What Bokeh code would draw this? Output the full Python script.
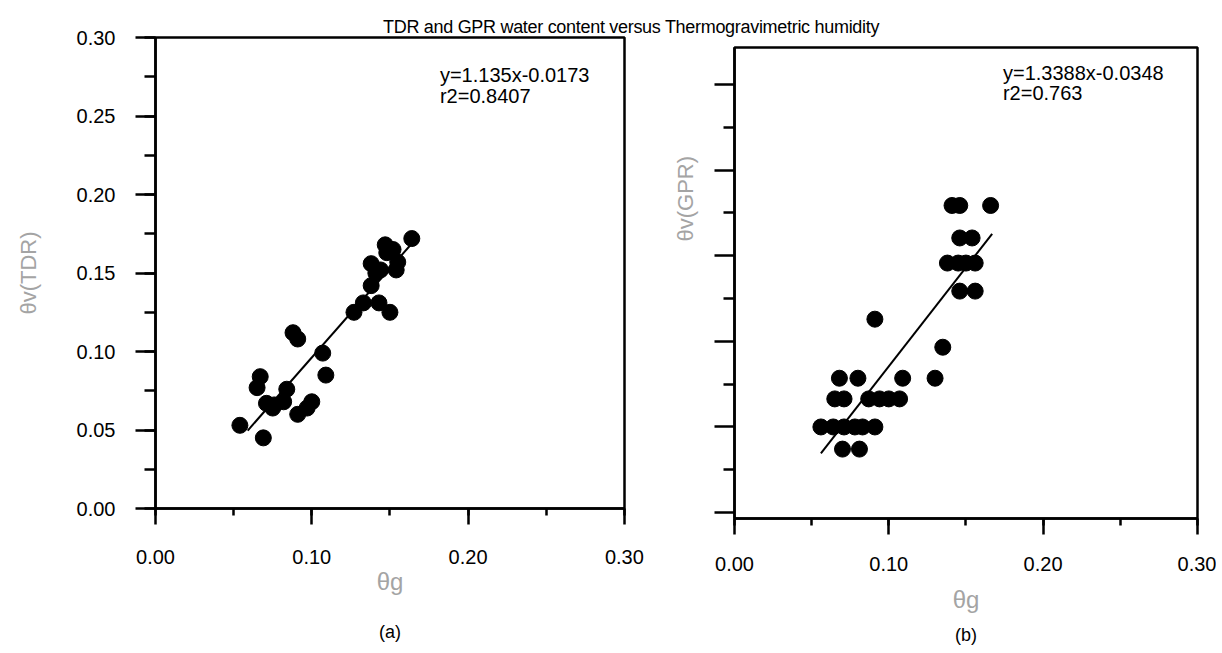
from bokeh.plotting import figure
from bokeh.layouts import row, column
from bokeh.models import (Div, Label, Title, Spacer, LinearAxis, SingleIntervalTicker,
                          FixedTicker, PrintfTickFormatter, CustomJSTickFormatter, Range1d)
from bokeh.embed import file_html
from bokeh.resources import INLINE

# ---------------- data ----------------
TITLE = "TDR and GPR water content versus Thermogravimetric humidity"

tdr_theta_g = [0.054, 0.069, 0.067, 0.065, 0.071, 0.076, 0.075, 0.082, 0.084, 0.088,
               0.091, 0.091, 0.097, 0.100, 0.107, 0.109, 0.127, 0.133, 0.143, 0.150,
               0.138, 0.138, 0.144, 0.154, 0.148, 0.147, 0.152, 0.164, 0.155, 0.141]
tdr_theta_v = [0.053, 0.045, 0.084, 0.077, 0.067, 0.066, 0.064, 0.068, 0.076, 0.112,
               0.108, 0.060, 0.064, 0.068, 0.099, 0.085, 0.125, 0.131, 0.131, 0.125,
               0.142, 0.156, 0.152, 0.152, 0.163, 0.168, 0.165, 0.172, 0.157, 0.150]

gpr_theta_g = [0.141, 0.146, 0.166, 0.146, 0.154, 0.138, 0.145, 0.150, 0.156, 0.146,
               0.156, 0.091, 0.135, 0.068, 0.080, 0.109, 0.130, 0.065, 0.071, 0.087,
               0.094, 0.100, 0.107, 0.056, 0.064, 0.071, 0.078, 0.083, 0.091, 0.070,
               0.081]
gpr_theta_v = [0.208, 0.208, 0.208, 0.186, 0.186, 0.169, 0.169, 0.169, 0.169, 0.150,
               0.150, 0.131, 0.112, 0.091, 0.091, 0.091, 0.091, 0.077, 0.077, 0.077,
               0.077, 0.077, 0.077, 0.058, 0.058, 0.058, 0.058, 0.058, 0.058, 0.043,
               0.043]

tdr_fit_slope, tdr_fit_icpt = 1.135, -0.0173
gpr_fit_slope, gpr_fit_icpt = 1.3388, -0.0348
tdr_fit_x = [0.059, 0.165]
gpr_fit_x = [0.056, 0.167]

tdr_eq = ["y=1.135x-0.0173", "r2=0.8407"]
gpr_eq = ["y=1.3388x-0.0348", "r2=0.763"]

x_label = "θg"
tdr_y_label = "θv(TDR)"
gpr_y_label = "θv(GPR)"
panel_tags = ["(a)", "(b)"]

gpr_y_major = [0.0, 0.058, 0.116, 0.174, 0.232, 0.290]
gpr_y_minor = [0.029, 0.087, 0.145, 0.203, 0.261]

FONT = "Liberation Sans"
GREY = "#a4a4a4"


def style(p):
    p.outline_line_color = "black"
    p.outline_line_width = 2.5
    p.xgrid.visible = False
    p.ygrid.visible = False
    p.border_fill_color = None
    for ax in (p.xaxis[0], p.yaxis[0]):
        ax.axis_line_width = 2.5
        ax.major_tick_line_width = 2.5
        ax.minor_tick_line_width = 2.5
        ax.major_tick_in = 0
        ax.minor_tick_in = 0
        ax.major_label_text_font = FONT
        ax.major_label_text_font_size = "20px"
        ax.major_label_text_color = "black"
        ax.axis_label_text_font = FONT
        ax.axis_label_text_font_style = "normal"
        ax.axis_label_text_color = GREY
    p.xaxis.axis_label_text_font_size = "24px"
    p.yaxis.axis_label_text_font_size = "22px"
    p.xaxis.major_tick_out = 16
    p.xaxis.minor_tick_out = 7
    p.yaxis.major_tick_out = 20
    p.yaxis.minor_tick_out = 11
    p.yaxis.major_label_standoff = 20


def tag_axis(p, text, standoff):
    ax = LinearAxis(ticker=FixedTicker(ticks=[]), axis_label=text,
                    axis_label_standoff=standoff, axis_line_color=None,
                    major_tick_line_color=None, minor_tick_line_color=None,
                    major_tick_out=0, minor_tick_out=0, major_tick_in=0, minor_tick_in=0,
                    major_label_standoff=0, axis_label_text_font=FONT,
                    axis_label_text_font_size="18px", axis_label_text_font_style="normal",
                    axis_label_text_color="black")
    p.add_layout(ax, "below")


def equation(p, x, ys, lines):
    for y, t in zip(ys, lines):
        p.add_layout(Label(x=x, y=y, text=t, text_font=FONT, text_font_size="20px",
                           text_color="black", text_baseline="middle"))


# ---------------- left panel (TDR) ----------------
p1 = figure(frame_width=469, frame_height=471, min_border_left=155, min_border_right=30,
            min_border_top=29, min_border_bottom=137,
            x_range=Range1d(0, 0.3001), y_range=Range1d(0, 0.3001),
            output_backend="svg", toolbar_location=None)
style(p1)
p1.xaxis.ticker = SingleIntervalTicker(interval=0.1, num_minor_ticks=2)
p1.yaxis.ticker = SingleIntervalTicker(interval=0.05, num_minor_ticks=2)
p1.xaxis.formatter = PrintfTickFormatter(format="%.2f")
p1.yaxis.formatter = PrintfTickFormatter(format="%.2f")
p1.xaxis.major_label_standoff = 25
p1.xaxis.axis_label = x_label
p1.xaxis.axis_label_standoff = 1
p1.yaxis.axis_label = tdr_y_label
p1.yaxis.axis_label_standoff = 33

p1.scatter(tdr_theta_g, tdr_theta_v, size=16, color="black")
p1.line(tdr_fit_x, [tdr_fit_slope * x + tdr_fit_icpt for x in tdr_fit_x],
        line_color="black", line_width=2)
equation(p1, 0.182, [0.276, 0.263], tdr_eq)
tag_axis(p1, panel_tags[0], 24)

# ---------------- right panel (GPR) ----------------
p2 = figure(frame_width=463, frame_height=471, min_border_left=78, min_border_right=19,
            min_border_top=29, min_border_bottom=127,
            x_range=Range1d(0, 0.3001), y_range=Range1d(-0.004, 0.315),
            output_backend="svg", toolbar_location=None)
style(p2)
p2.xaxis.ticker = SingleIntervalTicker(interval=0.1, num_minor_ticks=2)
p2.yaxis.ticker = FixedTicker(ticks=gpr_y_major, minor_ticks=gpr_y_minor)
p2.xaxis.formatter = PrintfTickFormatter(format="%.2f")
p2.yaxis.formatter = CustomJSTickFormatter(code="return ''")
p2.xaxis.major_label_standoff = 22
p2.xaxis.axis_label = x_label
p2.xaxis.axis_label_standoff = 12

p2.scatter(gpr_theta_g, gpr_theta_v, size=16, color="black")
p2.line(gpr_fit_x, [gpr_fit_slope * x + gpr_fit_icpt for x in gpr_fit_x],
        line_color="black", line_width=2)
equation(p2, 0.174, [0.298, 0.284], gpr_eq)
p2.add_layout(Title(text=gpr_y_label, align="left", offset=277, standoff=33,
                    text_font=FONT, text_font_size="22px", text_font_style="normal",
                    text_color=GREY), "left")
tag_axis(p2, panel_tags[1], 9)

# ---------------- title ----------------
title = Div(text=('<div style="position:relative; top:17px; left:383px; z-index:5; '
                  'white-space:nowrap; font-family:\'Liberation Sans\', Arial, sans-serif; '
                  'font-size:18px; letter-spacing:-0.3px; color:black; line-height:20px;">'
                  + TITLE + '</div>'),
            width=1206, height=8, margin=0)

layout = column(title, row(p1, column(Spacer(height=10, width=10), p2, spacing=0),
                           spacing=0), spacing=0)
open("out.html", "w").write(file_html(layout, INLINE))
